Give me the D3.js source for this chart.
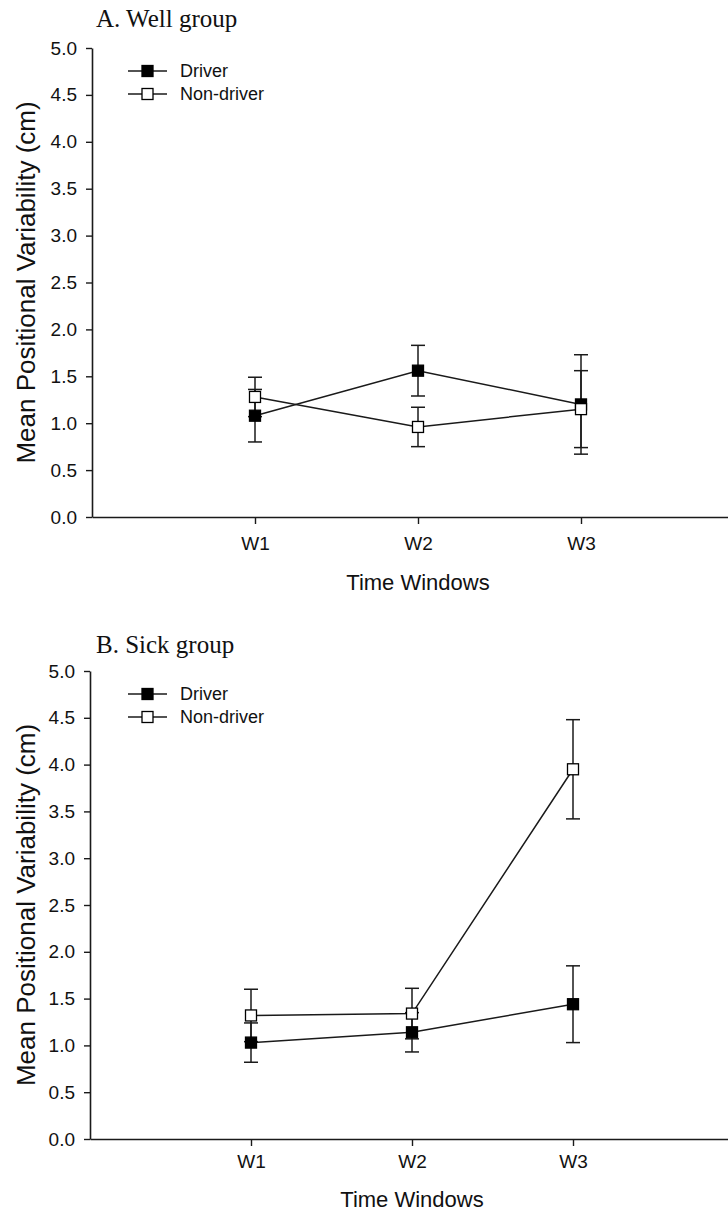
<!DOCTYPE html>
<html>
<head>
<meta charset="utf-8">
<script src="https://cdn.jsdelivr.net/npm/d3@7"></script>
<style>
  body { margin: 0; background: #fff; }
  svg { display: block; }
</style>
</head>
<body>
<div id="chart"></div>
<script>
// --------------------------------------
//  Data
// --------------------------------------

const windows = ["W1", "W2", "W3"];
const yTicks = [0, 0.5, 1, 1.5, 2, 2.5, 3, 3.5, 4, 4.5, 5];
const seriesNames = ["Driver", "Non-driver"];

// A. Well group
const wellDriverMean = [1.08, 1.56, 1.20];
const wellDriverSE = [0.28, 0.27, 0.53];
const wellNonDriverMean = [1.28, 0.96, 1.15];
const wellNonDriverSE = [0.21, 0.21, 0.41];

// B. Sick group
const sickDriverMean = [1.03, 1.14, 1.44];
const sickDriverSE = [0.21, 0.21, 0.41];
const sickNonDriverMean = [1.32, 1.34, 3.95];
const sickNonDriverSE = [0.28, 0.27, 0.53];

// --------------------------------------
//  Canvas
// --------------------------------------

const width = 728;
const height = 1211;
const ink = "#1a1a1a";
const sans = "'Liberation Sans', Arial, sans-serif";

const svg = d3.select("#chart")
  .append("svg")
    .attr("width", width)
    .attr("height", height)
    .attr("viewBox", `0 0 ${width} ${height}`);

const panels = [
  {title: "A. Well group", top: 48, bottom: 517, left: 92, unit: 163,
   titleY: 27, tickLabelY: 550, xTitleY: 590,
   series: [
     {mean: wellDriverMean, se: wellDriverSE, filled: true},
     {mean: wellNonDriverMean, se: wellNonDriverSE, filled: false}
   ]},
  {title: "B. Sick group", top: 671, bottom: 1139, left: 90, unit: 161,
   titleY: 653, tickLabelY: 1168, xTitleY: 1207,
   series: [
     {mean: sickDriverMean, se: sickDriverSE, filled: true},
     {mean: sickNonDriverMean, se: sickNonDriverSE, filled: false}
   ]}
];

const markerSize = 11;
const capHalf = 7;

function drawMarker(g, cx, cy, filled) {
  g.append("rect")
    .attr("x", cx - markerSize / 2)
    .attr("y", cy - markerSize / 2)
    .attr("width", markerSize)
    .attr("height", markerSize)
    .attr("fill", filled ? "#000" : "#fff")
    .attr("stroke", "#000")
    .attr("stroke-width", 1.3);
}

panels.forEach(p => {

  const g = svg.append("g");

  // scales
  const x = d3.scaleLinear()
      .domain([0, 4])
      .range([p.left, p.left + 4 * p.unit]);

  const y = d3.scaleLinear()
      .domain([0, 5])
      .range([p.bottom, p.top]);

  // title
  g.append("text")
    .attr("x", 96)
    .attr("y", p.titleY)
    .attr("font-family", "'Liberation Serif', 'Times New Roman', serif")
    .attr("font-size", 25)
    .attr("fill", "#111")
    .text(p.title);

  // y axis
  const yAxis = g.append("g")
      .attr("transform", `translate(${p.left}, 0)`)
      .call(d3.axisLeft(y)
        .tickValues(yTicks)
        .tickFormat(d3.format(".1f"))
        .tickSize(6)
        .tickSizeOuter(0)
        .tickPadding(9));

  // x axis
  const xAxis = g.append("g")
      .attr("transform", `translate(0, ${p.bottom})`)
      .call(d3.axisBottom(x)
        .tickValues([1, 2, 3])
        .tickFormat(d => windows[d - 1])
        .tickSize(7)
        .tickSizeOuter(0)
        .tickPadding(9));

  [yAxis, xAxis].forEach(ax => {
    ax.select(".domain").attr("stroke", ink).attr("stroke-width", 1.6);
    ax.selectAll(".tick line").attr("stroke", ink).attr("stroke-width", 1.4);
    ax.selectAll(".tick text")
      .attr("font-family", sans)
      .attr("font-size", 19)
      .attr("fill", "#111");
  });

  xAxis.selectAll(".tick text")
    .attr("dy", null)
    .attr("y", p.tickLabelY - p.bottom);

  // axis titles
  g.append("text")
    .attr("x", x(2))
    .attr("y", p.xTitleY)
    .attr("text-anchor", "middle")
    .attr("font-family", sans)
    .attr("font-size", 22)
    .attr("fill", "#111")
    .text("Time Windows");

  g.append("text")
    .attr("transform", `translate(35, ${(p.top + p.bottom) / 2}) rotate(-90)`)
    .attr("text-anchor", "middle")
    .attr("font-family", sans)
    .attr("font-size", 26)
    .attr("fill", "#111")
    .text("Mean Positional Variability (cm)");

  // error bars
  p.series.forEach(s => {
    s.mean.forEach((m, i) => {
      const cx = x(i + 1);
      const lo = y(m - s.se[i]);
      const hi = y(m + s.se[i]);
      g.append("line")
        .attr("x1", cx).attr("x2", cx)
        .attr("y1", lo).attr("y2", hi)
        .attr("stroke", ink).attr("stroke-width", 1.5);
      [lo, hi].forEach(yy => {
        g.append("line")
          .attr("x1", cx - capHalf).attr("x2", cx + capHalf)
          .attr("y1", yy).attr("y2", yy)
          .attr("stroke", ink).attr("stroke-width", 1.5);
      });
    });
  });

  // connecting lines
  const line = d3.line()
      .x((d, i) => x(i + 1))
      .y(d => y(d));

  p.series.forEach(s => {
    g.append("path")
      .datum(s.mean)
      .attr("d", line)
      .attr("fill", "none")
      .attr("stroke", ink)
      .attr("stroke-width", 1.5);
  });

  // markers
  p.series.forEach(s => {
    s.mean.forEach((m, i) => drawMarker(g, x(i + 1), y(m), s.filled));
  });

  // legend
  const legendY = p.top + 23;
  seriesNames.forEach((name, k) => {
    const ly = legendY + k * 23;
    g.append("line")
      .attr("x1", 128).attr("x2", 167)
      .attr("y1", ly).attr("y2", ly)
      .attr("stroke", ink).attr("stroke-width", 1.5);
    drawMarker(g, 147.5, ly, k === 0);
    g.append("text")
      .attr("x", 180)
      .attr("y", ly)
      .attr("dy", "0.35em")
      .attr("font-family", sans)
      .attr("font-size", 18)
      .attr("fill", "#111")
      .text(name);
  });

});
</script>
</body>
</html>
